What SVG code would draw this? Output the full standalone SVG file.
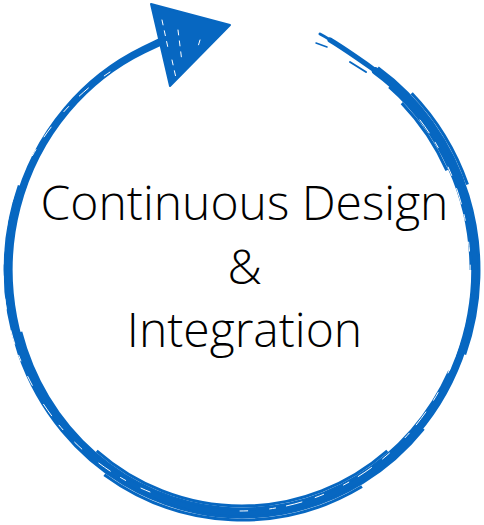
<svg xmlns="http://www.w3.org/2000/svg" width="484" height="525" viewBox="0 0 484 525">
<style>
.s{fill:none;stroke:#0767c1;stroke-linecap:round}
.b{fill:none;stroke:#0767c1;stroke-linecap:butt;stroke-width:3}
.w{fill:none;stroke:#ffffff;stroke-linecap:round;stroke-width:1}
.t{font-family:"Open Sans","Noto Sans",sans-serif;font-weight:300;font-size:48px;fill:#000;text-anchor:middle}
</style>
<rect width="484" height="525" fill="#fff"/>
<g id="connectors">
<path class="s" stroke-width="7.5" d="M375.6,71 A233,243 0 1 1 143.5,49.8 L160,42"/>
<path class="b" d="M377.9,67.7 A237,247 0 0 1 464.7,354.5"/>
<path class="b" d="M423.5,428.8 A237,247 0 0 1 19.3,185.5"/>
<path class="b" d="M411.7,93.2 A240,250 0 0 1 467.5,184.5"/>
<path class="b" d="M362,486.5 A240,250 0 0 1 104.3,474.8"/>
<path class="b" d="M389.2,86.9 A229,239 0 0 1 471,270"/>
<path class="b" d="M449.5,371 A229,239 0 0 1 20.8,331.9"/>
<path class="b" d="M387.3,450.8 A226,236 0 0 1 96.7,450.8"/>
<path class="b" d="M401.8,103.1 A226,236 0 0 1 446.8,170.3"/>
<path class="s" stroke-width="5" d="M376,71 C359,59 345,49 330,40"/>
<path class="s" stroke-width="3" d="M345,50 C335,43 328,38 320,34"/>
<path class="s" stroke-width="1.5" d="M316,43 L327,47"/>
<path class="s" stroke-width="2" d="M350,62 L366,72"/>
<path class="w" stroke-dasharray="16 11 6 22 9 14" d="M420,120 A231,241 0 0 1 240,511"/>
<path class="w" stroke-dasharray="8 19 12 10 5 25" d="M460,330 A235,245 0 0 1 15,300"/>
<path class="w" stroke-dasharray="10 17 6 12 14 22" d="M150,492 A230,240 0 0 1 60,110"/>
<path class="w" stroke-dasharray="7 20 12 15" d="M110,72 A234,244 0 0 0 25,170"/>
</g>
<g id="arrowhead">
<polygon points="151,4 230,25 170,86" fill="#0767c1" stroke="#0767c1" stroke-width="2" stroke-linejoin="round"/>
<path class="w" d="M162,20 L168,48 M178,30 L182,62 M200,40 L197,50 M172,60 L176,78" stroke-dasharray="5 6"/>
</g>
<g id="label">
<text class="t" x="244.5" y="220">Continuous Design</text>
<text class="t" x="244.5" y="283.5">&amp;</text>
<text class="t" x="244.5" y="347">Integration</text>
</g>
</svg>
